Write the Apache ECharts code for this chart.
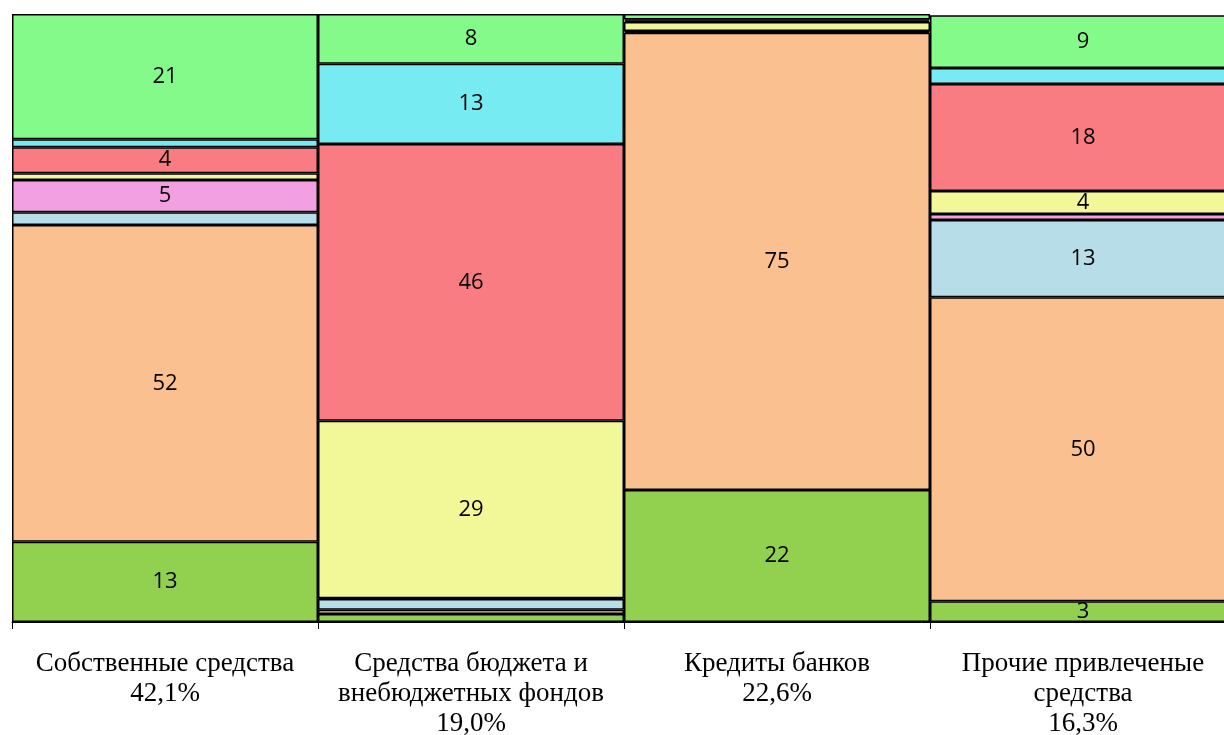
<!DOCTYPE html>
<html>
<head>
<meta charset="utf-8">
<script src="https://cdn.jsdelivr.net/npm/echarts@6/dist/echarts.min.js"></script>
<style>
  html, body { margin: 0; padding: 0; background: #fff; overflow: hidden; }
  #main { width: 1224px; height: 735px; }
</style>
</head>
<body>
<div id="main"></div>
<script>
// categories (source of funds, with share of total)
const categories = [
  'Собственные средства\n42,1%',
  'Средства бюджета и\nвнебюджетных фондов\n19,0%',
  'Кредиты банков\n22,6%',
  'Прочие привлеченые\nсредства\n16,3%'
];

// stacked shares, bottom to top, % of each column
const darkGreen  = [13.2, 1.3, 21.7, 3.4];
const orange     = [52.1, 0.7, 75.2, 50.0];
const lightBlue  = [2.1, 1.8, 0.2, 12.7];
const pink       = [5.3, 0.1, 0.1, 1.0];
const yellow     = [1.1, 29.2, 1.5, 3.8];
const red        = [4.3, 45.5, 0.2, 17.6];
const cyan       = [1.3, 13.2, 0.2, 2.6];
const lightGreen = [20.6, 8.2, 0.9, 8.7];

const seriesData = [darkGreen, orange, lightBlue, pink, yellow, red, cyan, lightGreen];
const colors = ['#92D050', '#FAC090', '#B7DEE8', '#F2A0E2', '#F2F797', '#F87C82', '#76EBF2', '#84FA8A'];

const chart = echarts.init(document.getElementById('main'));

chart.setOption({
  animation: false,
  // last column runs past the right edge of the picture
  grid: { left: 12, width: 1224, top: 14, bottom: 113, outerBoundsMode: 'none', containLabel: false },
  xAxis: {
    type: 'category',
    data: categories,
    axisLine: { lineStyle: { color: '#000', width: 1 } },
    axisTick: { show: true, length: 7, lineStyle: { color: '#000', width: 1 } },
    axisLabel: {
      interval: 0,
      hideOverlap: false,
      color: '#000',
      fontFamily: 'Liberation Serif',
      fontSize: 27,
      lineHeight: 30,
      margin: 27
    }
  },
  yAxis: {
    type: 'value',
    min: 0,
    max: 100,
    show: false
  },
  series: seriesData.map((arr, i) => ({
    type: 'bar',
    stack: 'all',
    barCategoryGap: 0,
    data: arr,
    itemStyle: { color: colors[i], borderColor: '#000', borderWidth: 1.5 },
    label: {
      show: true,
      position: 'inside',
      color: '#000',
      fontFamily: 'Open Sans',
      fontSize: 22,
      formatter: p => (p.value >= 3 ? Math.round(p.value) : '')
    }
  }))
});
</script>
</body>
</html>
